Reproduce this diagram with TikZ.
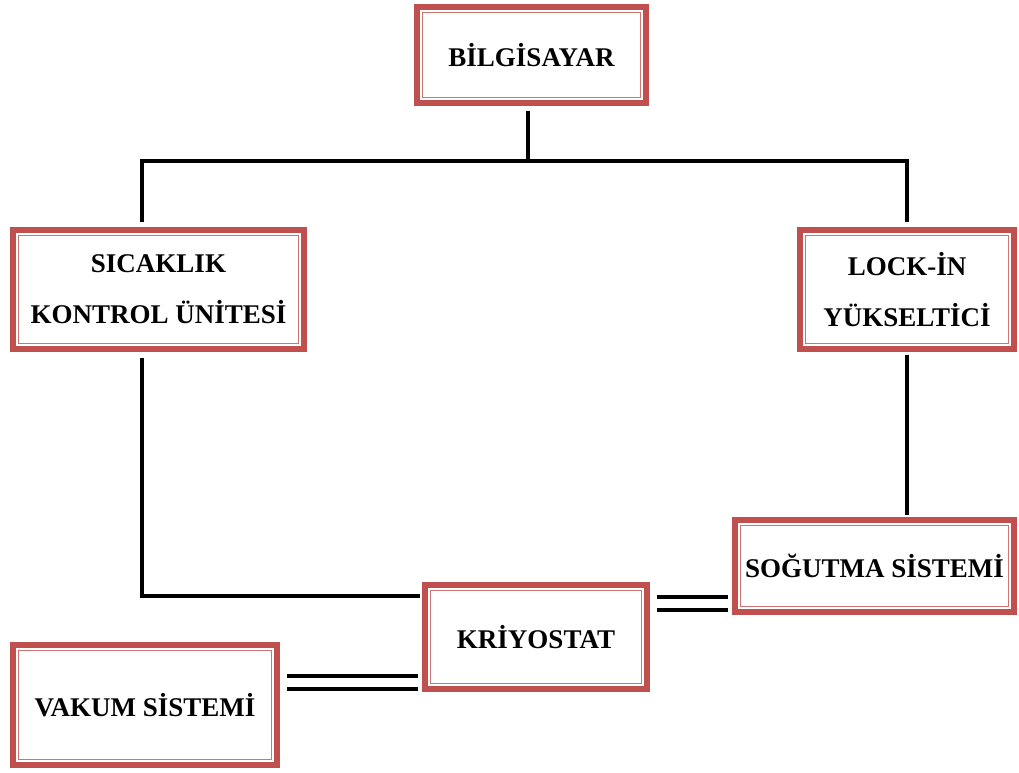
\documentclass[tikz,border=0pt]{standalone}
\usepackage{fontspec}
\setmainfont{Liberation Serif}
\usetikzlibrary{positioning}
\definecolor{boxred}{HTML}{C0504D}

\begin{document}
\begin{tikzpicture}[x=1pt,y=1pt,
    unit/.style={draw=boxred,line width=6pt,fill=white,inner sep=0pt,align=center,
      font=\bfseries\fontsize{27}{51}\selectfont},
    link/.style={line width=4pt,line cap=rect},
    pipe/.style={double,double distance=9pt,line width=4pt}]
        \useasboundingbox (0,0) rectangle (1019,-772);
        \node[unit,minimum width=229,minimum height=96] (pc)   at (531.5,-55)  {BİLGİSAYAR};
        \node[unit,minimum width=291,minimum height=119] (tcu) at (158.5,-289.5) {SICAKLIK\\KONTROL ÜNİTESİ};
        \node[unit,minimum width=214,minimum height=119] (lia) at (907,-289.5)  {LOCK-İN\\YÜKSELTİCİ};
        \node[unit,minimum width=279,minimum height=92] (cool) at (874.5,-566)  {SOĞUTMA SİSTEMİ};
        \node[unit,minimum width=222,minimum height=104] (cryo) at (536,-637)   {KRİYOSTAT};
        \node[unit,minimum width=264,minimum height=120] (vac)  at (145,-705)   {VAKUM SİSTEMİ};
        % inner thin frame of every box
        \foreach \n in {pc,tcu,lia,cool,cryo,vac}
          \draw[boxred!80,line width=1.5pt] ([shift={(8.5,8.5)}]\n.south west) rectangle ([shift={(-8.5,-8.5)}]\n.north east);
        % bus from the computer
        \draw[link] ([shift={(-3.5,-7)}]pc.south) -- ++(0,-48) coordinate (bus);
        \draw[link] ([shift={(-16.5,7)}]tcu.north) |- (bus) -| ([yshift=7]lia.north);
        \draw[link] ([shift={(-16.5,-8)}]tcu.south) |- ([shift={(-4,41)}]cryo.west);
        \coordinate (liain) at (lia.south |- cool.north);
        \draw[link] ([yshift=-5]lia.south) -- ([yshift=4]liain);
        % double lines
        \draw[pipe] ([shift={(7,33.5)}]cryo.east) -- ([shift={(-4,-37.5)}]cool.west);
        \draw[pipe] ([shift={(7,23)}]vac.east) -- ([shift={(-4,-45)}]cryo.west);
      \end{tikzpicture}
\end{document}
